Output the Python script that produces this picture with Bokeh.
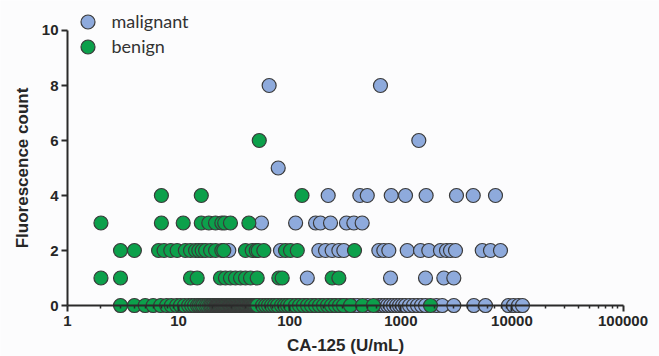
from bokeh.plotting import figure
from bokeh.models import Range1d, FixedTicker, NumeralTickFormatter, Legend, LegendItem, ColumnDataSource
from bokeh.embed import file_html
from bokeh.resources import INLINE

# CA-125 (U/mL) values per fluorescence count
benign_0 = [3.0, 4.0, 5.0, 5.9, 6.9, 7.8, 8.6, 9.6, 10.4, 11.3, 12.3, 13.1, 13.9, 14.8, 15.4,
            16.1, 16.7, 17.5, 18.2, 19.0, 19.6, 20.2, 20.8, 21.5, 21.9, 22.2, 22.6, 23.0, 23.3,
            23.8, 24.2, 24.6, 25.0, 25.3, 25.8, 26.2, 26.6, 27.0, 27.5, 28.1, 28.6, 29.0, 29.5,
            29.9, 30.5, 31.0, 31.5, 32.0, 32.5, 33.1, 33.6, 34.2, 34.8, 35.3, 36.0, 36.5, 37.1,
            37.7, 38.3, 39.1, 39.6, 40.3, 41.0, 41.6, 42.5, 43.2, 43.9, 44.6, 45.2, 46.2, 46.8,
            47.6, 48.4, 49.1, 50.2, 51.2, 56.9, 60.6, 64.4, 68.6, 73.0, 77.6, 84.4, 89.8, 95.5,
            101.7, 112.8, 122.5, 133, 144.6, 157, 170.8, 185.4, 201.5, 218.9, 237.8, 258.4,
            280.8, 305, 352.5, 452, 567, 1850]
benign_1 = [2.0, 3.0, 12.8, 14.7, 23.8, 26.4, 29.3, 32.5, 36.1, 40, 44.4, 51, 79.8, 85.6, 241, 277]
benign_2 = [3.0, 4.0, 6.6, 7.4, 8.5, 9.7, 11.5, 12.8, 14.2, 15.2, 16.3, 17.5, 19.4, 21.5, 24.5,
            25.5, 40, 46, 50, 52, 58.5, 91.6, 101.6, 117, 383]
benign_3 = [2.0, 7.0, 11.0, 16.0, 18.7, 21.5, 24.5, 26.0, 29.3, 42.9]
benign_4 = [7.0, 16.0, 129]
benign_6 = [53.2]

malignant_0 = [26.4, 36.1, 46.3, 53.5, 58.1, 63.1, 70, 81, 93.6, 106, 120, 138.7, 163.7, 193,
               223.5, 253, 292.6, 324.5, 375, 408, 501, 630, 670, 713, 759, 808, 860, 915, 973,
               1036, 1102, 1198, 1301, 1413, 1535, 1668, 2095, 2360, 3000, 4540, 5785, 9310,
               10330, 11460, 12450]
malignant_1 = [144, 808, 1668, 2438, 3000]
malignant_2 = [28.3, 82.6, 183, 210, 241, 277, 307, 634, 703, 780, 1142, 1504, 1786, 2275, 2577,
               2800, 3106, 5407, 6416, 7893]
malignant_3 = [55.7, 113, 171, 189, 233, 324, 378, 449]
malignant_4 = [222, 428, 499, 820, 1102, 1690, 3170, 4485, 7115]
malignant_5 = [78.8]
malignant_6 = [1452]
malignant_8 = [65.3, 656]

benign_rows = {0: benign_0, 1: benign_1, 2: benign_2, 3: benign_3, 4: benign_4, 6: benign_6}
malignant_rows = {0: malignant_0, 1: malignant_1, 2: malignant_2, 3: malignant_3,
                  4: malignant_4, 5: malignant_5, 6: malignant_6, 8: malignant_8}

x_ticks = [1, 10, 100, 1000, 10000, 100000]
y_ticks = [0, 2, 4, 6, 8, 10]


def flatten(rows):
    xs, ys = [], []
    for count, vals in rows.items():
        for v in sorted(vals):
            xs.append(v)
            ys.append(count)
    return ColumnDataSource(data=dict(x=xs, y=ys))


BG = "#fcfcfd"
AX = "#2a2a2a"
TXT = "#262626"
FONT = "Liberation Sans"

p = figure(width=659, height=356, x_axis_type="log",
           x_range=Range1d(0.2494, 213000), y_range=Range1d(-1.8545, 11.0909),
           output_backend="svg", toolbar_location=None,
           min_border_left=0, min_border_right=0, min_border_top=0, min_border_bottom=0,
           background_fill_color=BG, border_fill_color=BG, outline_line_color=None)
p.xgrid.visible = False
p.ygrid.visible = False

r_m = p.scatter("x", "y", source=flatten(malignant_rows), size=14, fill_color="#8eaadc",
                line_color="#3a3a3a", line_width=1.2)
r_b = p.scatter("x", "y", source=flatten(benign_rows), size=14, fill_color="#0ca04b",
                line_color="#3a3a3a", line_width=1.2)

xa = p.xaxis[0]
xa.fixed_location = 0
xa.bounds = (1, 100000)
xa.ticker = FixedTicker(ticks=x_ticks,
                        minor_ticks=[m * 10 ** k for k in range(5) for m in range(2, 10)])
xa.formatter = NumeralTickFormatter(format="0")
xa.axis_label = "CA-125 (U/mL)"

ya = p.yaxis[0]
ya.fixed_location = 1
ya.bounds = (0, 10)
ya.ticker = FixedTicker(ticks=y_ticks, minor_ticks=[])
ya.axis_label = "Fluorescence count"

for ax in (xa, ya):
    ax.axis_line_color = AX
    ax.axis_line_width = 2
    ax.major_tick_line_color = AX
    ax.major_tick_line_width = 2
    ax.major_tick_out = 6
    ax.major_tick_in = 0
    ax.minor_tick_line_color = AX
    ax.minor_tick_line_width = 1.5
    ax.minor_tick_out = 3
    ax.minor_tick_in = 0
    ax.major_label_text_font = FONT
    ax.major_label_text_font_style = "bold"
    ax.major_label_text_font_size = "15px"
    ax.major_label_text_color = TXT
    ax.axis_label_text_font = FONT
    ax.axis_label_text_font_style = "bold"
    ax.axis_label_text_font_size = "17px"
    ax.axis_label_text_color = TXT

ya.major_label_standoff = 3
ya.axis_label_standoff = 7
xa.major_label_standoff = 4
xa.axis_label_standoff = 7

common = dict(glyph_width=35, glyph_height=35, padding=0, margin=0, label_standoff=7,
              border_line_color=None, background_fill_alpha=0, label_text_font="Lato",
              label_text_font_size="18px", label_text_color="#333333")
legend_m = Legend(items=[LegendItem(label="malignant", renderers=[r_m])],
                  location=(69.5, 317.5), **common)
legend_b = Legend(items=[LegendItem(label="benign", renderers=[r_b])],
                  location=(69.5, 292.5), **common)
p.add_layout(legend_m)
p.add_layout(legend_b)

open("out.html", "w").write(file_html(p, INLINE))
